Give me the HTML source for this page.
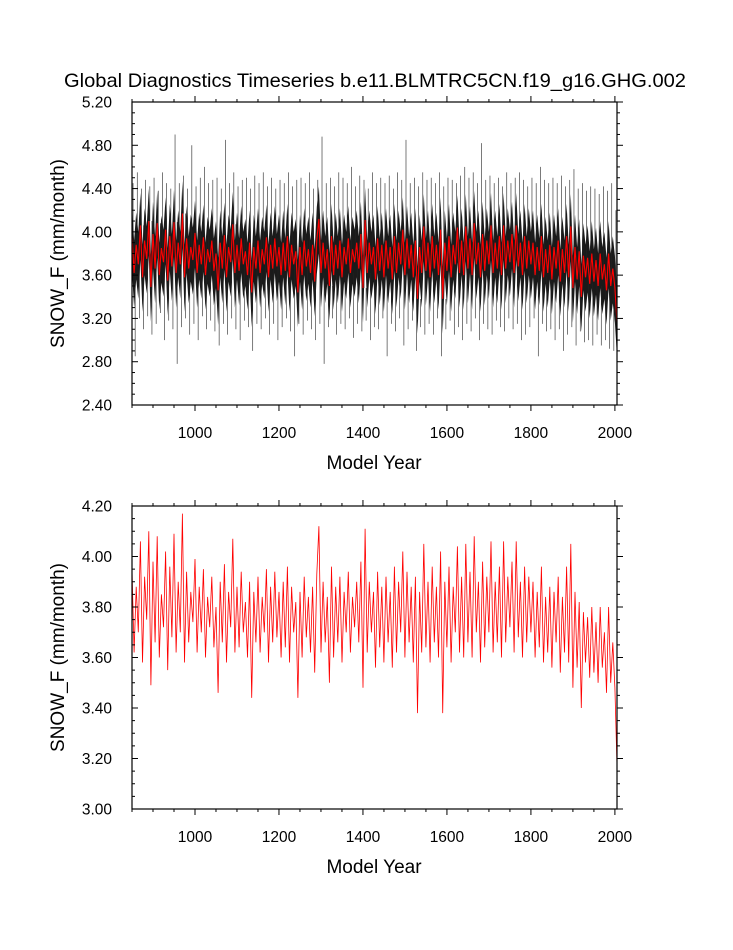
<!DOCTYPE html>
<html><head><meta charset="utf-8"><style>
html,body{margin:0;padding:0;background:#fff}
svg text{font-family:"Liberation Sans",sans-serif;fill:#000}
</style></head><body>
<svg id="chart" width="733" height="945" xmlns="http://www.w3.org/2000/svg">
<text x="375" y="87" font-size="19.5" text-anchor="middle" textLength="622" lengthAdjust="spacingAndGlyphs">Global Diagnostics Timeseries b.e11.BLMTRC5CN.f19_g16.GHG.002</text>
<g id="p1"></g>
<g id="p2"></g>
</svg>
<script>
// annual (5-yr sampled) values starting 850
const annualYearsStart = 850, annualStep = 5;
const annual = [
3.95,3.62,3.88,3.70,4.06,3.58,3.92,3.75,4.10,3.49,
3.98,3.66,4.08,3.60,3.85,3.72,4.02,3.55,3.96,3.68,
4.09,3.62,3.90,3.70,4.17,3.58,3.94,3.66,3.86,3.74,
3.99,3.62,3.88,3.70,3.95,3.60,3.84,3.72,3.92,3.64,
3.80,3.46,3.90,3.66,3.97,3.58,3.86,3.72,4.07,3.62,
3.88,3.64,3.94,3.70,3.82,3.60,3.90,3.44,3.86,3.66,
3.92,3.62,3.84,3.70,3.95,3.58,3.88,3.66,3.94,3.68,
3.86,3.60,3.90,3.64,3.96,3.58,3.88,3.70,3.82,3.44,
3.86,3.60,3.92,3.68,3.84,3.62,3.88,3.54,3.93,4.12,
3.62,3.90,3.66,3.84,3.50,3.96,3.60,3.88,3.66,3.92,
3.58,3.86,3.70,3.94,3.62,3.84,3.72,3.90,3.66,3.98,
3.48,4.11,3.62,3.90,3.70,3.86,3.56,3.94,3.64,3.88,
3.58,3.92,3.66,3.86,3.56,3.96,3.62,3.90,3.70,4.02,
3.60,3.94,3.66,3.88,3.58,3.92,3.38,3.86,3.62,4.05,
3.64,3.90,3.58,3.96,3.66,3.88,3.60,4.02,3.38,3.90,
3.64,3.96,3.58,3.88,3.70,4.04,3.62,3.92,3.60,4.05,
3.66,3.94,3.60,4.08,3.70,3.90,3.58,3.98,3.64,3.92,
3.70,4.06,3.62,3.90,3.66,3.96,3.60,4.06,3.66,3.92,
3.72,3.98,3.62,4.06,3.68,3.90,3.60,3.96,3.66,3.92,
3.70,3.90,3.60,3.86,3.64,3.96,3.58,3.84,3.62,3.88,
3.56,3.86,3.66,3.92,3.54,3.84,3.62,3.96,3.58,4.05,
3.48,3.86,3.56,3.82,3.40,3.78,3.58,3.76,3.52,3.80,
3.54,3.74,3.50,3.80,3.56,3.70,3.46,3.80,3.50,3.66,
3.48,3.17];
// monthly envelope per 10-yr bin starting 850
const monthlyYearsStart = 850, monthlyStep = 10;
const monthlyHi = [
4.45,4.55,4.40,4.48,4.42,4.50,4.38,4.55,4.45,4.40,
4.90,4.45,4.52,4.40,4.80,4.42,4.50,4.60,4.45,4.48,
4.50,4.40,4.85,4.45,4.55,4.42,4.48,4.50,4.40,4.52,
4.45,4.55,4.42,4.50,4.40,4.48,4.45,4.55,4.42,4.48,
4.50,4.45,4.55,4.40,4.48,4.88,4.45,4.50,4.42,4.55,
4.50,4.45,4.60,4.42,4.52,4.48,4.40,4.55,4.45,4.50,
4.45,4.52,4.40,4.55,4.48,4.85,4.45,4.50,4.42,4.55,
4.48,4.50,4.45,4.55,4.42,4.50,4.48,4.45,4.52,4.60,
4.50,4.55,4.45,4.82,4.48,4.52,4.45,4.50,4.42,4.55,
4.45,4.50,4.55,4.48,4.42,4.50,4.45,4.60,4.48,4.45,
4.50,4.45,4.52,4.42,4.48,4.58,4.40,4.45,4.38,4.42,
4.40,4.35,4.42,4.38,4.45,4.20];
const monthlyLo = [
2.85,3.20,3.10,3.22,3.05,3.15,3.25,3.00,3.18,3.10,
2.78,3.12,3.20,3.05,3.15,3.00,3.22,3.10,3.18,3.08,
2.95,3.15,3.05,3.20,3.10,3.00,3.18,3.12,2.90,3.15,
3.10,3.20,3.05,3.15,3.00,3.12,3.20,3.08,2.85,3.15,
3.05,3.18,3.10,3.00,3.15,2.78,3.12,3.20,3.05,3.15,
3.10,3.20,3.02,3.15,3.08,3.18,3.00,3.12,3.10,3.20,
2.85,3.15,3.08,3.20,2.95,3.10,3.18,2.90,3.12,3.05,
3.15,3.05,3.20,2.85,3.10,3.18,3.05,3.12,3.00,3.15,
3.08,3.20,3.00,3.15,3.10,3.05,3.18,3.12,3.08,3.20,
3.10,3.15,3.00,3.05,3.12,3.20,2.85,3.15,3.08,3.10,
3.00,3.10,2.90,3.05,3.12,2.95,3.08,2.98,3.00,2.95,
3.05,2.95,3.00,2.92,2.90,2.48];
const xTicks = [1000,1200,1400,1600,1800,2000];
const yTicksTop = [2.4,2.8,3.2,3.6,4.0,4.4,4.8,5.2];
const yTicksBot = [3.0,3.2,3.4,3.6,3.8,4.0,4.2];

const NS="http://www.w3.org/2000/svg";
const X0=132,X1=617,XMIN=850,XMAX=2005;
const xs=y=>X0+(y-XMIN)/(XMAX-XMIN)*(X1-X0);
function mk(t,a,p){const e=document.createElementNS(NS,t);for(const k in a)e.setAttribute(k,a[k]);p.appendChild(e);return e;}

function panel(g,top,bot,ymin,ymax,yt,minorStep,drawBlack){
  const ys=v=>bot-(v-ymin)/(ymax-ymin)*(bot-top);
  if(drawBlack){
    // core band from annual values
    let up=[],dn=[];
    annual.forEach((v,i)=>{const yr=Math.min(annualYearsStart+i*annualStep,XMAX);
      up.push(xs(yr).toFixed(1)+','+ys(v+0.30).toFixed(1));
      dn.unshift(xs(yr).toFixed(1)+','+ys(v-0.32).toFixed(1));});
    const core=mk('polygon',{points:up.concat(dn).join(' '),fill:'#1a1a1a'},g);
    
    
    monthlyHi.forEach((h,i)=>{const yr=monthlyYearsStart+i*monthlyStep+2.5;
      const mid=annual[Math.min(2*i,annual.length-1)];
      const a=mk('line',{x1:xs(yr),x2:xs(yr),y1:ys(h),y2:ys(mid),stroke:'#222','stroke-width':'0.6'},g);
      
      
      const yr2=Math.min(yr+5,XMAX);
      const b=mk('line',{x1:xs(yr2),x2:xs(yr2),y1:ys(mid),y2:ys(monthlyLo[i]),stroke:'#222','stroke-width':'0.6'},g);
      
      });
  }
  const rp=annual.map((v,i)=>xs(Math.min(annualYearsStart+i*annualStep,XMAX)).toFixed(1)+','+ys(v).toFixed(1)).join(' ');
  const rl=mk('polyline',{points:rp,fill:'none',stroke:'#f00','stroke-width':drawBlack?'1.1':'0.8'},g);
  
  
  const fr=mk('rect',{x:X0,y:top,width:X1-X0,height:bot-top,fill:'none',stroke:'#000','stroke-width':'1.2'},g);
  
  
  for(let yr=850;yr<=2000;yr+=50){const maj=yr%200===0;const L=maj?6:3;
    mk('line',{x1:xs(yr),x2:xs(yr),y1:bot,y2:bot+L,stroke:'#000'},g);
    mk('line',{x1:xs(yr),x2:xs(yr),y1:top,y2:top-L,stroke:'#000'},g);}
  xTicks.forEach(t=>{const tx=mk('text',{x:xs(t),y:bot+33,'font-size':'15.5','text-anchor':'middle'},g);tx.textContent=t;
    
    });
  for(let v=ymin;v<=ymax+1e-6;v+=minorStep){const maj=yt.some(t=>Math.abs(t-v)<1e-6);const L=maj?6:3;
    mk('line',{x1:X0,x2:X0+L,y1:ys(v),y2:ys(v),stroke:'#000'},g);
    mk('line',{x1:X1,x2:X1+L,y1:ys(v),y2:ys(v),stroke:'#000'},g);}
  yt.forEach(t=>{const tx=mk('text',{x:X0-20,y:ys(t)+5.5,'font-size':'15.5','text-anchor':'end'},g);tx.textContent=t.toFixed(2);
    
    });
  const xt=mk('text',{x:374,y:bot+64,'font-size':'19','text-anchor':'middle'},g);xt.textContent='Model Year';
  
  
  const cy=(top+bot)/2;
  const yl=mk('text',{x:64,y:cy,'font-size':'19','text-anchor':'middle',transform:`rotate(-90 64 ${cy})`},g);yl.textContent='SNOW_F (mm/month)';
  
  
}
panel(document.getElementById('p1'),102,405,2.4,5.2,yTicksTop,0.1,true);
panel(document.getElementById('p2'),506,809,3.0,4.2,yTicksBot,0.05,false);
</script>
</body></html>
